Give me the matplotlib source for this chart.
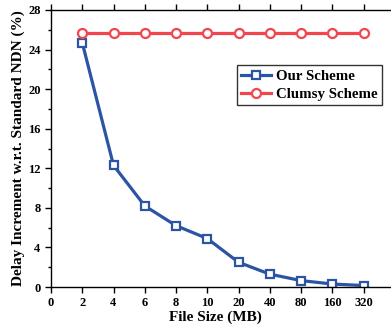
import numpy as np
import matplotlib.pyplot as plt
from matplotlib.ticker import MultipleLocator

plt.rcParams['font.family'] = ['Liberation Serif', 'DejaVu Serif']
plt.rcParams['font.weight'] = 'bold'

tick_labels = ['0', '2', '4', '6', '8', '10', '20', '40', '80', '160', '320']
file_sizes = ['2', '4', '6', '8', '10', '20', '40', '80', '160', '320']
our_scheme = [24.7, 12.3, 8.2, 6.2, 4.9, 2.5, 1.3, 0.65, 0.3, 0.15]
clumsy_scheme = [25.7, 25.7, 25.7, 25.7, 25.7, 25.7, 25.7, 25.7, 25.7, 25.7]

fig = plt.figure(figsize=(3.91, 3.29), dpi=100)
ax = fig.add_axes([51/391, 1 - 287/329, 350/391, 277/329])

x = np.arange(1, len(file_sizes) + 1)
ax.plot(x, our_scheme, color='#2b54a5', lw=2.3, marker='s', ms=5.2,
        mfc='white', mec='#2b54a5', mew=1.6, label='Our Scheme')
ax.plot(x, clumsy_scheme, color='#f2464e', lw=2.3, marker='o', ms=6.5,
        mfc='white', mec='#f2464e', mew=1.6, label='Clumsy Scheme')

ax.set_xlim(0, 11.2)
ax.set_ylim(0, 28)
ax.set_xticks(np.arange(len(tick_labels)))
ax.set_xticklabels(tick_labels)
ax.yaxis.set_major_locator(MultipleLocator(4))
ax.yaxis.set_minor_locator(MultipleLocator(2))
ax.tick_params(axis='both', which='both', direction='out', labelsize=9,
               top=True, width=1)
ax.tick_params(which='major', length=4)
ax.tick_params(which='minor', length=2.5)
for s in ax.spines.values():
    s.set_linewidth(1)

ax.set_xlabel('File Size (MB)', fontsize=11, fontweight='bold', labelpad=1)
ax.xaxis.set_label_coords(0.471, -0.085)
ax.set_ylabel('Delay Increment w.r.t. Standard NDN (%)', fontsize=11,
              fontweight='bold', labelpad=2)

leg = ax.legend(loc='upper left', bbox_to_anchor=((237 - 51) / 350, 1 - (65 - 10) / 277),
                fontsize=10.7, frameon=True, fancybox=False, edgecolor='black',
                handlelength=2.0, borderpad=0.3, labelspacing=0.3,
                handletextpad=0.3, borderaxespad=0)
leg.get_frame().set_linewidth(1)

fig.savefig('out.png', dpi=100)
